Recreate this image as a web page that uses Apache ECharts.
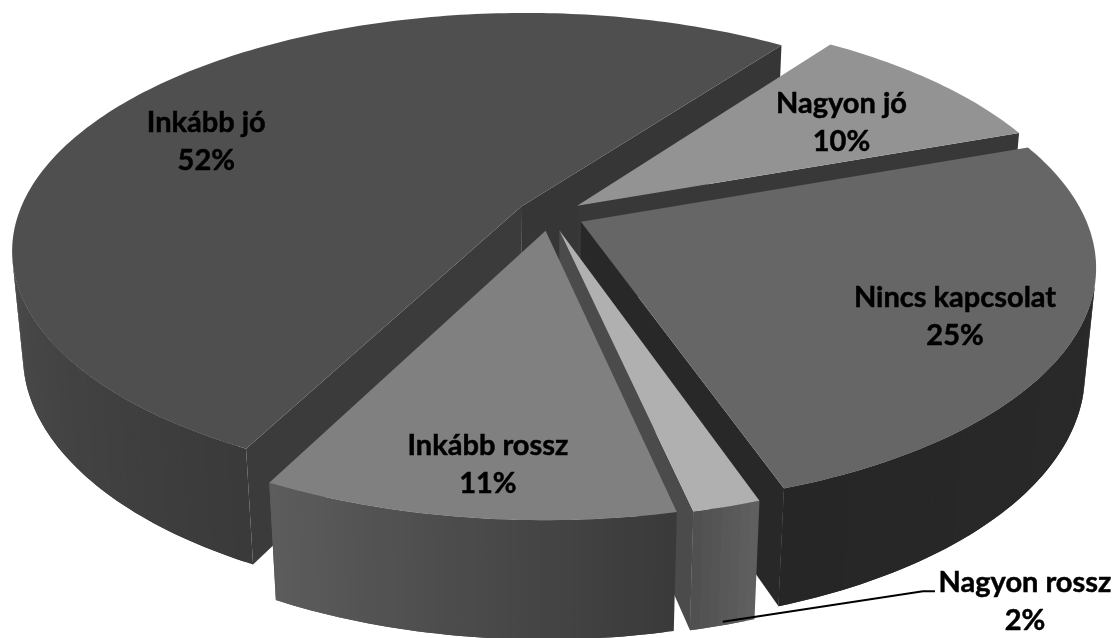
<!DOCTYPE html>
<html>
<head>
<meta charset="utf-8">
<style>html,body{margin:0;padding:0;background:#fff}#c{width:1117px;height:638px}</style>
<script src="https://cdn.jsdelivr.net/npm/echarts@6/dist/echarts.min.js"></script>
</head>
<body>
<div id="c"></div>
<script>
// Data (labels show the rounded percentages)
const categories = ['Nagyon jó', 'Nincs kapcsolat', 'Nagyon rossz', 'Inkább rossz', 'Inkább jó'];
const shares = [9.5, 25.2, 1.8, 10.9, 52.4];

// Camera and pie geometry
const cam = {cx: 550, cy: 215, R: 503, S: 231.3, p: 0.179, q: 0.02, T: 105};
const startAngle = 36, explode = 0.068, facet = 1;
const drawOrder = [4, 0, 1, 2, 3];

// Shading per slice
const topColor   = ['#939393', '#666666', '#b0b0b0', '#808080', '#4f4f4f'];
const cutColor   = [['#383838', '#383838'], ['#282828', '#282828'], ['#4b4b4b', '#4b4b4b'], ['#3a3a3a', '#3a3a3a'], ['#3b3b3b', '#363636']];
const wallFrom   = [0x60, 0x2a, 0x5f, 0x3a, 0x3a];
const wallTo     = [0x60, 0x26, 0x50, 0x5c, 0x4a];
// Label placement: degrees from the slice bisector, fraction of the radius
const labelPlace = [[2.2, 0.759], [3, 0.851], [-13.9, 1.477], [-0.8, 0.911], [-6.45, 0.80]];

const deg = Math.PI / 180;
function project(u, v, z) {
  const w = 1 - cam.p * v + cam.q * z;
  return [cam.cx + cam.R * u / w, cam.cy + (cam.S * v + cam.T * z) / w];
}
function sliceSpan(i) {
  let a = startAngle;
  const total = shares.reduce((s, x) => s + x, 0);
  for (let k = 0; k < i; k++) a += shares[k] / total * 360;
  return [a, a + shares[i] / total * 360];
}
function toGrey(n) { const h = Math.round(n).toString(16).padStart(2, '0'); return '#' + h + h + h; }
function area(pts) {
  let s = 0;
  for (let k = 0; k < pts.length; k++) {
    const a = pts[k], b = pts[(k + 1) % pts.length];
    s += a[0] * b[1] - b[0] * a[1];
  }
  return s;
}
function poly(points, fill) {
  return {type: 'polygon', shape: {points}, style: {fill}};
}
function renderSlice(params, api) {
  const i = drawOrder[params.dataIndex];
  const [a0, a1] = sliceSpan(i);
  const mid = (a0 + a1) / 2 * deg;
  const ox = explode * Math.sin(mid), oy = -explode * Math.cos(mid);
  const rim = (a, z) => project(ox + Math.sin(a * deg), oy - Math.cos(a * deg), z);
  const apexTop = project(ox, oy, 0), apexBot = project(ox, oy, 1);
  const kids = [];
  const cut0 = [apexTop, rim(a0, 0), rim(a0, 1), apexBot];
  const cut1 = [apexTop, rim(a1, 0), rim(a1, 1), apexBot];
  if (area(cut0) < 0) kids.push(poly(cut0, cutColor[i][0]));
  if (area(cut1) > 0) kids.push(poly(cut1, cutColor[i][1]));
  const n = Math.max(2, Math.ceil((a1 - a0) / facet));
  const step = (a1 - a0) / n;
  const front = [];
  for (let k = 0; k < n; k++) {
    const b0 = a0 + step * k, b1 = b0 + step;
    if (area([rim(b0, 0), rim(b1, 0), rim(b1, 1), rim(b0, 1)]) < 0) front.push(b0);
  }
  front.forEach((b0, k) => {
    const b1 = b0 + step, b2 = Math.min(b1 + step, a1);
    const shade = wallFrom[i] + (wallTo[i] - wallFrom[i]) * k / Math.max(1, front.length - 1);
    kids.push(poly([rim(b0, 0), rim(b1, 0), rim(b2, 0), rim(b2, 1), rim(b1, 1), rim(b0, 1)], toGrey(shade)));
  });
  const top = [apexTop];
  for (let k = 0; k <= n; k++) top.push(rim(a0 + step * k, 0));
  kids.push(poly(top, topColor[i]));
  return {type: 'group', children: kids};
}
function renderLabel(params, api) {
  const i = params.dataIndex;
  const [a0, a1] = sliceSpan(i);
  const a = ((a0 + a1) / 2 + labelPlace[i][0]) * deg, r = labelPlace[i][1];
  const pos = project(r * Math.sin(a), -r * Math.cos(a), 0);
  const kids = [{
    type: 'text',
    style: {
      x: pos[0], y: pos[1], text: categories[i] + '\n' + Math.round(api.value(0)) + '%',
      font: 'bold 29px Lato, "Noto Sans", sans-serif', lineHeight: 38,
      fill: '#000', stroke: '#000', lineWidth: 0.5, align: 'center', verticalAlign: 'middle'
    }
  }];
  if (categories[i] === 'Nagyon rossz') {
    const m = (a0 + a1) / 2 * deg;
    const start = project((explode + 1) * Math.sin(m), -(explode + 1) * Math.cos(m), 0.97);
    kids.push({
      type: 'polyline',
      shape: {points: [start, [pos[0] - 102, pos[1] - 10], [pos[0] - 90, pos[1] - 10]]},
      style: {stroke: '#000', lineWidth: 2, fill: null}
    });
  }
  return {type: 'group', children: kids};
}
const chart = echarts.init(document.getElementById('c'), null, {renderer: 'canvas'});
chart.setOption({
  backgroundColor: '#ffffff',
  animation: false,
  series: [
    {type: 'custom', coordinateSystem: 'none', silent: true, renderItem: renderSlice, data: drawOrder.map(i => [shares[i]])},
    {type: 'custom', coordinateSystem: 'none', silent: true, z: 5, renderItem: renderLabel, data: shares.map(v => [v])}
  ]
});
</script>
</body>
</html>
